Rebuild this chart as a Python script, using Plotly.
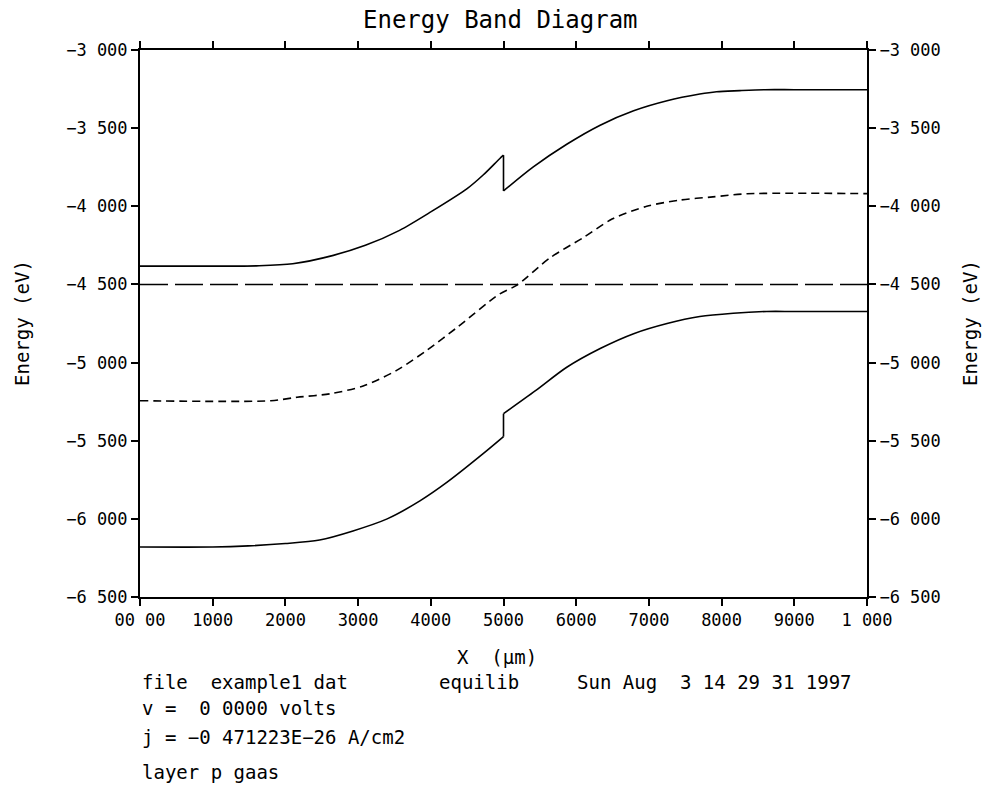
import plotly.graph_objects as go

# ---- data ----
x_ticks = [0.0, 0.1, 0.2, 0.3, 0.4, 0.5, 0.6, 0.7, 0.8, 0.9, 1.0]
x_ticktext = ["00 00", "1000", "2000", "3000", "4000", "5000", "6000", "7000", "8000", "9000", "1 000"]
y_ticks = [-3.0, -3.5, -4.0, -4.5, -5.0, -5.5, -6.0, -6.5]
y_ticktext = ["\u22123 000", "\u22123 500", "\u22124 000", "\u22124 500", "\u22125 000", "\u22125 500", "\u22126 000", "\u22126 500"]

# conduction band: left of heterojunction / right of heterojunction
ec_left_x = [0.0, 0.10, 0.16, 0.21, 0.266, 0.31, 0.357, 0.40, 0.45, 0.472, 0.495, 0.5]
ec_left_y = [-4.383, -4.383, -4.381, -4.368, -4.314, -4.25, -4.154, -4.036, -3.887, -3.80, -3.694, -3.673]
ec_right_x = [0.5, 0.541, 0.587, 0.633, 0.679, 0.725, 0.770, 0.793, 0.825, 0.86, 0.9, 1.0]
ec_right_y = [-3.902, -3.748, -3.603, -3.481, -3.389, -3.325, -3.282, -3.267, -3.26, -3.254, -3.254, -3.254]

# intrinsic level (dashed)
ei_x = [0.0, 0.18, 0.216, 0.261, 0.307, 0.353, 0.395, 0.436, 0.495, 0.518, 0.564,
        0.61, 0.65, 0.697, 0.743, 0.788, 0.835, 1.0]
ei_y = [-5.244, -5.244, -5.222, -5.20, -5.15, -5.05, -4.92, -4.776, -4.56, -4.506, -4.33,
        -4.20, -4.08, -4.00, -3.96, -3.94, -3.92, -3.919]

# Fermi level
ef_x = [0.0, 1.0]
ef_y = [-4.5, -4.5]

# valence band: left / right of heterojunction
ev_left_x = [0.0, 0.10, 0.149, 0.20, 0.247, 0.293, 0.34, 0.385, 0.422, 0.472, 0.5]
ev_left_y = [-6.18, -6.18, -6.173, -6.158, -6.135, -6.077, -6.00, -5.885, -5.767, -5.583, -5.474]
ev_right_x = [0.5, 0.544, 0.587, 0.633, 0.679, 0.725, 0.770, 0.816, 0.862, 0.9, 1.0]
ev_right_y = [-5.327, -5.18, -5.03, -4.91, -4.815, -4.75, -4.705, -4.684, -4.673, -4.673, -4.673]

FONT = "DejaVu Sans Mono"
BLACK = "#000000"

# plot area in pixels
L, R, T, B = 140, 867, 50, 597
W, H = 986, 786


def px(xp):
    return (xp - L) / (R - L)


def py(yp):
    return (B - yp) / (B - T)


fig = go.Figure()


def add_line(x, y, dash="solid", shape="spline", yaxis="y"):
    fig.add_trace(go.Scatter(x=x, y=y, mode="lines", yaxis=yaxis,
                             line=dict(color=BLACK, width=1.6, dash=dash, shape=shape,
                                       smoothing=0.8 if shape == "spline" else None),
                             hoverinfo="skip", showlegend=False))


for lx, ly, rx, ry in [(ec_left_x, ec_left_y, ec_right_x, ec_right_y),
                       (ev_left_x, ev_left_y, ev_right_x, ev_right_y)]:
    add_line(lx, ly)
    add_line([lx[-1], rx[0]], [ly[-1], ry[0]], shape="linear")
    add_line(rx, ry)

add_line(ei_x, ei_y, dash="8px,5px")
add_line(ef_x, ef_y, dash="28px,7px", shape="linear", yaxis="y2")

axis_common = dict(showgrid=False, zeroline=False, showline=True, linecolor=BLACK, linewidth=2,
                   ticks="outside", ticklen=7, tickwidth=1.5, tickcolor=BLACK,
                   tickfont=dict(family=FONT, size=17, color=BLACK))

fig.update_layout(
    width=W, height=H,
    paper_bgcolor="white", plot_bgcolor="white",
    margin=dict(l=L, r=W - R, t=T, b=H - B, autoexpand=False),
    xaxis=dict(range=[0, 1], tickvals=x_ticks, ticktext=x_ticktext, mirror="ticks", **axis_common),
    yaxis=dict(range=[-6.5, -3.0], tickvals=y_ticks, ticktext=y_ticktext, **axis_common),
    yaxis2=dict(range=[-6.5, -3.0], tickvals=y_ticks, ticktext=y_ticktext, overlaying="y", side="right",
                **axis_common),
    showlegend=False,
)

annos = [
    dict(text="Energy Band Diagram", x=px(500), y=py(20), xanchor="center", yanchor="middle", size=24),
    dict(text="Energy (eV)", x=px(22), y=py(323), xanchor="center", yanchor="middle", size=19, angle=-90),
    dict(text="Energy (eV)", x=px(970), y=py(323), xanchor="center", yanchor="middle", size=19, angle=-90),
    dict(text="X  (\u03bcm)", x=px(455), y=py(657), xanchor="left", yanchor="middle", size=19),
    dict(text="file  example1 dat", x=px(140), y=py(682), xanchor="left", yanchor="middle", size=19),
    dict(text="equilib", x=px(437), y=py(682), xanchor="left", yanchor="middle", size=19),
    dict(text="Sun Aug  3 14 29 31 1997", x=px(575), y=py(682), xanchor="left", yanchor="middle", size=19),
    dict(text="v =  0 0000 volts", x=px(140), y=py(708), xanchor="left", yanchor="middle", size=19),
    dict(text="j = \u22120 471223E\u221226 A/cm2", x=px(140), y=py(737), xanchor="left", yanchor="middle", size=19),
    dict(text="layer p gaas", x=px(140), y=py(772), xanchor="left", yanchor="middle", size=19),
]
for a in annos:
    fig.add_annotation(text=a["text"], x=a["x"], y=a["y"], xref="paper", yref="paper",
                       xanchor=a["xanchor"], yanchor=a["yanchor"], showarrow=False,
                       textangle=a.get("angle", 0),
                       font=dict(family=FONT, size=a["size"], color=BLACK))

fig.write_html("out.html")
